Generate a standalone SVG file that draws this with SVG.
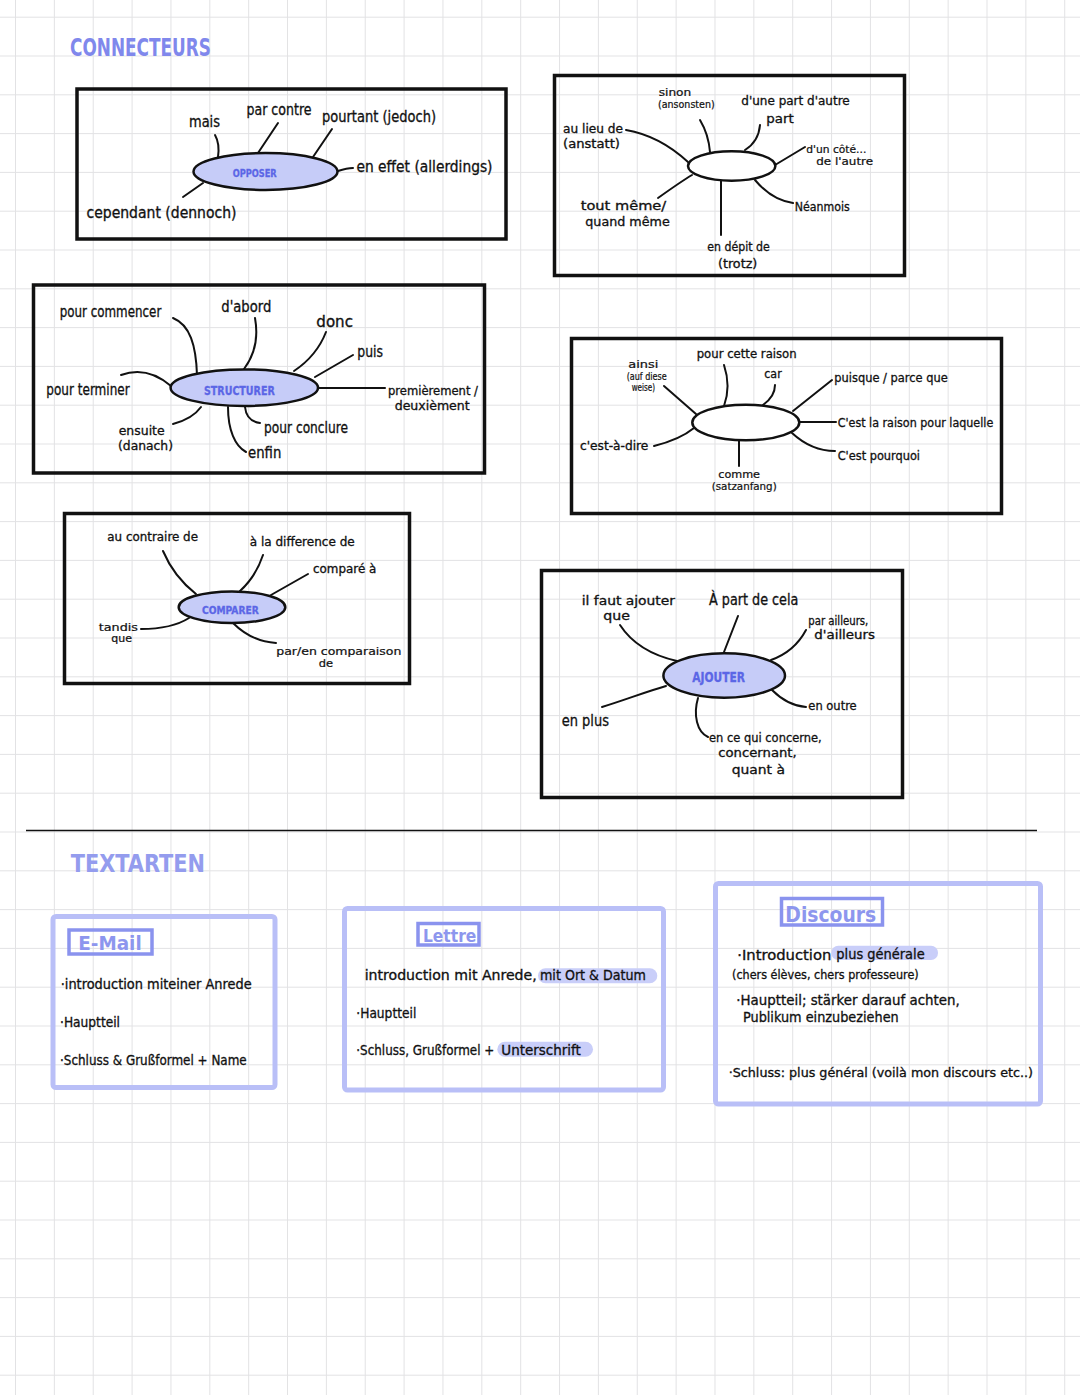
<svg xmlns="http://www.w3.org/2000/svg" width="1080" height="1395" viewBox="0 0 1080 1395">
<defs>
<pattern id="grid" patternUnits="userSpaceOnUse" x="15" y="16.7" width="38.86" height="38.8">
<path d="M0 0H38.86M0 0V38.8" fill="none" stroke="#e2e2e4" stroke-width="2"/>
</pattern>
<style>
.frame{fill:none;stroke:#111;stroke-width:3.5}
.hub{fill:#c6ccf8;stroke:#111;stroke-width:2.5}
.hubw{fill:#fff;stroke:#111;stroke-width:2.5}
.con{fill:none;stroke:#111;stroke-width:2;stroke-linecap:round}
text{font-family:"Liberation Sans Narrow","DejaVu Sans Condensed","Liberation Sans",sans-serif;fill:#111;font-size:15px;stroke:#111;stroke-width:0.3}
.sm{font-size:12.5px}
.md{font-size:13px}
.xs{font-size:10px;stroke-width:0.2}
.hubt{font-size:11px;fill:#5b66e6;stroke:#5b66e6;font-weight:bold}
.title{font-size:25px;font-weight:bold;fill:#8088ec;stroke:none}
.title2{font-size:25px;font-weight:bold;fill:#949cee;stroke:none}
.card{fill:none;stroke:#b9bff7;stroke-width:5}
.tag{fill:none;stroke:#8a93ee;stroke-width:3.5}
.tagt{font-size:20px;font-weight:bold;fill:#8d96ee;stroke:none}
.pill{fill:#c9cef9}
.tx{font-size:14px}
</style>
</defs>
<rect width="1080" height="1395" fill="#fff"/>
<rect width="1080" height="1395" fill="url(#grid)"/>

<text class="title" x="70" y="56" textLength="141" lengthAdjust="spacingAndGlyphs">CONNECTEURS</text>

<g id="connectors">
<!-- opposer -->
<path class="con" d="M215,135 C219,142 219,150 218,157"/>
<path class="con" d="M278,123 L258,153"/>
<path class="con" d="M332,129 L313,157"/>
<path class="con" d="M338,171 C344,169 348,168 353,168"/>
<path class="con" d="M203,183 L183,197"/>
<!-- top right -->
<path class="con" d="M626,130 C655,135 675,150 688,162"/>
<path class="con" d="M700,120 C706,130 709,140 710,152"/>
<path class="con" d="M760,125 C759,137 753,145 745,150"/>
<path class="con" d="M805,147 L775,165"/>
<path class="con" d="M658,198 C672,188 682,181 692,175"/>
<path class="con" d="M721,181 L721,235"/>
<path class="con" d="M755,180 C765,192 778,201 793,203"/>
<!-- structurer -->
<path class="con" d="M173,318 C190,325 196,345 197,375"/>
<path class="con" d="M255,318 C259,340 253,357 244,369"/>
<path class="con" d="M326,332 C319,350 306,363 294,371"/>
<path class="con" d="M353,355 L315,377"/>
<path class="con" d="M318,388 L385,388"/>
<path class="con" d="M121,375 C140,368 157,374 171,386"/>
<path class="con" d="M173,424 C188,420 196,414 201,407"/>
<path class="con" d="M245,407 C246,417 252,422 260,423"/>
<path class="con" d="M228,407 C228,430 235,446 246,452"/>
<!-- middle right -->
<path class="con" d="M664,386 L696,414"/>
<path class="con" d="M724,365 C729,380 728,395 724,406"/>
<path class="con" d="M775,385 C775,394 770,400 763,405"/>
<path class="con" d="M832,380 L793,411"/>
<path class="con" d="M799,422 L836,422"/>
<path class="con" d="M792,433 C805,445 818,451 835,451"/>
<path class="con" d="M654,446 C670,442 683,437 694,428"/>
<path class="con" d="M739,440 L739,466"/>
<!-- comparer -->
<path class="con" d="M163,551 C171,570 182,583 196,594"/>
<path class="con" d="M263,555 C258,570 250,582 240,591"/>
<path class="con" d="M308,574 L271,595"/>
<path class="con" d="M141,629 C160,629 178,625 189,618"/>
<path class="con" d="M233,623 C245,635 260,642 276,643"/>
<!-- ajouter -->
<path class="con" d="M620,625 C633,645 655,656 677,661"/>
<path class="con" d="M738,616 L724,652"/>
<path class="con" d="M806,630 C798,645 785,655 771,660"/>
<path class="con" d="M772,690 C782,700 792,706 806,707"/>
<path class="con" d="M602,707 C625,700 645,692 666,686"/>
<path class="con" d="M698,698 C693,715 697,732 708,737"/>
</g>

<g id="opposer">
<rect class="frame" x="77" y="89" width="429" height="150"/>
<ellipse class="hub" cx="265.5" cy="171.5" rx="72" ry="18.5"/>
<text class="hubt" x="232.7" y="176.5" textLength="44" lengthAdjust="spacingAndGlyphs">OPPOSER</text>
<text x="189" y="127" textLength="31" lengthAdjust="spacingAndGlyphs">mais</text>
<text x="246.5" y="115" textLength="65" lengthAdjust="spacingAndGlyphs">par contre</text>
<text x="322" y="121.5" textLength="114" lengthAdjust="spacingAndGlyphs">pourtant (jedoch)</text>
<text x="356.5" y="171.5" textLength="136" lengthAdjust="spacingAndGlyphs">en effet (allerdings)</text>
<text x="86.5" y="218" textLength="150" lengthAdjust="spacingAndGlyphs">cependant (dennoch)</text>
</g>

<g id="nuancer">
<rect class="frame" x="554.5" y="75.5" width="350" height="200"/>
<ellipse class="hubw" cx="731.7" cy="166" rx="43.7" ry="14.7"/>
<text class="xs" x="658.7" y="95.5" textLength="32.6" lengthAdjust="spacingAndGlyphs">sinon</text>
<text class="xs" x="658" y="107.5" textLength="56.7" lengthAdjust="spacingAndGlyphs">(ansonsten)</text>
<text class="sm" x="741.3" y="105.3" textLength="108.4" lengthAdjust="spacingAndGlyphs">d'une part d'autre</text>
<text class="sm" x="766.3" y="123" textLength="27.4" lengthAdjust="spacingAndGlyphs">part</text>
<text class="sm" x="563" y="133.3" style="font-size:12px" textLength="60" lengthAdjust="spacingAndGlyphs">au lieu de</text>
<text class="sm" x="563" y="148" style="font-size:12px" textLength="57" lengthAdjust="spacingAndGlyphs">(anstatt)</text>
<text class="xs" x="806.3" y="152.5" textLength="60" lengthAdjust="spacingAndGlyphs">d'un côté...</text>
<text class="xs" x="816.3" y="164.7" textLength="56.7" lengthAdjust="spacingAndGlyphs">de l'autre</text>
<text class="md" x="580.7" y="209.5" textLength="85.6" lengthAdjust="spacingAndGlyphs">tout même/</text>
<text class="md" x="585.3" y="225.5" textLength="84.4" lengthAdjust="spacingAndGlyphs">quand même</text>
<text class="sm" x="794.7" y="211.3" textLength="55" lengthAdjust="spacingAndGlyphs">Néanmois</text>
<text class="sm" x="707.3" y="250.7" textLength="62.4" lengthAdjust="spacingAndGlyphs">en dépit de</text>
<text class="sm" x="718" y="268" textLength="39.3" lengthAdjust="spacingAndGlyphs">(trotz)</text>
</g>

<g id="structurer">
<rect class="frame" x="33.5" y="285" width="451" height="188"/>
<ellipse class="hub" cx="244.3" cy="387.7" rx="73.7" ry="18.3"/>
<text class="hubt" x="204" y="395" style="font-size:12px" textLength="70.7" lengthAdjust="spacingAndGlyphs">STRUCTURER</text>
<text x="59.7" y="316.7" textLength="101.6" lengthAdjust="spacingAndGlyphs">pour commencer</text>
<text x="221.3" y="311.7" textLength="50" lengthAdjust="spacingAndGlyphs">d'abord</text>
<text x="316.3" y="326.7" textLength="36.7" lengthAdjust="spacingAndGlyphs">donc</text>
<text x="357.3" y="357.3" textLength="25.7" lengthAdjust="spacingAndGlyphs">puis</text>
<text class="sm" x="388" y="395" textLength="90" lengthAdjust="spacingAndGlyphs">premièrement /</text>
<text class="sm" x="394.7" y="410" textLength="75" lengthAdjust="spacingAndGlyphs">deuxièment</text>
<text x="46.3" y="395" textLength="83.4" lengthAdjust="spacingAndGlyphs">pour terminer</text>
<text class="md" x="118.7" y="434.5" textLength="46" lengthAdjust="spacingAndGlyphs">ensuite</text>
<text class="md" x="118" y="450" textLength="55" lengthAdjust="spacingAndGlyphs">(danach)</text>
<text x="264" y="433.3" textLength="84" lengthAdjust="spacingAndGlyphs">pour conclure</text>
<text x="248" y="458.3" textLength="33.3" lengthAdjust="spacingAndGlyphs">enfin</text>
</g>

<g id="justifier">
<rect class="frame" x="571.5" y="338.5" width="430" height="175"/>
<ellipse class="hubw" cx="745.8" cy="422.5" rx="53.5" ry="17.8"/>
<text class="xs" x="628.3" y="368" textLength="30" lengthAdjust="spacingAndGlyphs">ainsi</text>
<text class="xs" x="626.7" y="379.7" textLength="40" lengthAdjust="spacingAndGlyphs">(auf diese</text>
<text class="xs" x="631.7" y="391.3" textLength="23.3" lengthAdjust="spacingAndGlyphs">weise)</text>
<text class="sm" x="696.7" y="358" textLength="100" lengthAdjust="spacingAndGlyphs">pour cette raison</text>
<text class="sm" x="764.3" y="378" textLength="17.4" lengthAdjust="spacingAndGlyphs">car</text>
<text class="sm" x="834.3" y="382.3" textLength="113.4" lengthAdjust="spacingAndGlyphs">puisque / parce que</text>
<text class="sm" x="837.7" y="427" textLength="155.6" lengthAdjust="spacingAndGlyphs">C'est la raison pour laquelle</text>
<text class="sm" x="837.7" y="459.7" textLength="82.3" lengthAdjust="spacingAndGlyphs">C'est pourquoi</text>
<text class="sm" x="580" y="449.7" textLength="68.3" lengthAdjust="spacingAndGlyphs">c'est-à-dire</text>
<text class="xs" x="718.3" y="478" textLength="41.7" lengthAdjust="spacingAndGlyphs">comme</text>
<text class="xs" x="711.7" y="489.7" textLength="65" lengthAdjust="spacingAndGlyphs">(satzanfang)</text>
</g>

<g id="comparer">
<rect class="frame" x="64.5" y="513.5" width="345" height="170"/>
<ellipse class="hub" cx="232" cy="607.2" rx="53.3" ry="15.8"/>
<text class="hubt" x="202" y="614" textLength="56.7" lengthAdjust="spacingAndGlyphs">COMPARER</text>
<text class="sm" x="107.3" y="541.3" textLength="90.7" lengthAdjust="spacingAndGlyphs">au contraire de</text>
<text class="sm" x="249.7" y="546.3" textLength="105" lengthAdjust="spacingAndGlyphs">à la difference de</text>
<text class="sm" x="313" y="573" textLength="63.3" lengthAdjust="spacingAndGlyphs">comparé à</text>
<text class="xs" x="98.7" y="630.5" textLength="39.3" lengthAdjust="spacingAndGlyphs">tandis</text>
<text class="xs" x="111.3" y="642" textLength="20.7" lengthAdjust="spacingAndGlyphs">que</text>
<text class="xs" x="276.3" y="654.5" textLength="125" lengthAdjust="spacingAndGlyphs">par/en comparaison</text>
<text class="xs" x="318.7" y="666.5" textLength="14.3" lengthAdjust="spacingAndGlyphs">de</text>
</g>

<g id="ajouter">
<rect class="frame" x="541.5" y="570.5" width="361" height="227"/>
<ellipse class="hub" cx="724.2" cy="675.5" rx="60.8" ry="22.2"/>
<text class="hubt" x="692.3" y="682.3" style="font-size:14px" textLength="52.7" lengthAdjust="spacingAndGlyphs">AJOUTER</text>
<text class="md" x="581.7" y="604.5" textLength="93.3" lengthAdjust="spacingAndGlyphs">il faut ajouter</text>
<text class="md" x="603.3" y="620" textLength="26.7" lengthAdjust="spacingAndGlyphs">que</text>
<text x="709" y="605" textLength="89.3" lengthAdjust="spacingAndGlyphs">À part de cela</text>
<text class="md" x="808.3" y="624.5" style="font-size:12px" textLength="60" lengthAdjust="spacingAndGlyphs">par ailleurs,</text>
<text class="md" x="814.3" y="639" style="font-size:12px" textLength="60.7" lengthAdjust="spacingAndGlyphs">d'ailleurs</text>
<text class="md" x="808.3" y="710" textLength="48.4" lengthAdjust="spacingAndGlyphs">en outre</text>
<text x="561.7" y="725.7" textLength="47.3" lengthAdjust="spacingAndGlyphs">en plus</text>
<text class="md" x="709" y="741.5" textLength="112.7" lengthAdjust="spacingAndGlyphs">en ce qui concerne,</text>
<text class="md" x="718.3" y="757" textLength="78.4" lengthAdjust="spacingAndGlyphs">concernant,</text>
<text class="md" x="731.7" y="774.3" textLength="53.3" lengthAdjust="spacingAndGlyphs">quant à</text>
</g>

<line x1="26" y1="830.5" x2="1037" y2="830.5" stroke="#111" stroke-width="1.6"/>

<text class="title2" x="70.7" y="872" textLength="134.3" lengthAdjust="spacingAndGlyphs">TEXTARTEN</text>

<g id="email">
<rect class="card" x="53" y="916.5" width="222" height="171" rx="3"/>
<rect class="tag" x="69" y="930" width="83" height="24"/>
<text class="tagt" x="78.3" y="950" textLength="63.4" lengthAdjust="spacingAndGlyphs">E-Mail</text>
<text class="tx" x="60.7" y="989.3" textLength="191" lengthAdjust="spacingAndGlyphs">·introduction miteiner Anrede</text>
<text class="tx" x="60" y="1026.7" textLength="60" lengthAdjust="spacingAndGlyphs">·Hauptteil</text>
<text class="tx" x="60" y="1065" textLength="186.7" lengthAdjust="spacingAndGlyphs">·Schluss &amp; Grußformel + Name</text>
</g>

<g id="lettre">
<rect class="card" x="344.5" y="908.5" width="319" height="181.5" rx="3"/>
<rect class="tag" x="418" y="923.5" width="61" height="21.5"/>
<text class="tagt" x="423" y="941.7" style="font-size:18px" textLength="53.3" lengthAdjust="spacingAndGlyphs">Lettre</text>
<rect class="pill" x="538" y="968.3" width="119.3" height="15" rx="7.5"/>
<text class="tx" x="364.7" y="980" textLength="172" lengthAdjust="spacingAndGlyphs">introduction mit Anrede,</text>
<text class="tx" x="540" y="980" textLength="106" lengthAdjust="spacingAndGlyphs">mit Ort &amp; Datum</text>
<text class="tx" x="356.3" y="1018.3" textLength="60" lengthAdjust="spacingAndGlyphs">·Hauptteil</text>
<rect class="pill" x="497.3" y="1041.7" width="95.7" height="15" rx="7.5"/>
<text class="tx" x="356.3" y="1055" textLength="138" lengthAdjust="spacingAndGlyphs">·Schluss, Grußformel +</text>
<text class="tx" x="501.3" y="1055" textLength="79.4" lengthAdjust="spacingAndGlyphs">Unterschrift</text>
</g>

<g id="discours">
<rect class="card" x="715.5" y="883.5" width="325" height="220.5" rx="3"/>
<rect class="tag" x="781.5" y="898.5" width="101" height="26.5"/>
<text class="tagt" x="785.3" y="921.7" style="font-size:22px" textLength="91" lengthAdjust="spacingAndGlyphs">Discours</text>
<rect class="pill" x="831.3" y="945.7" width="106.7" height="14.3" rx="7"/>
<text class="tx" x="737.3" y="960" textLength="94" lengthAdjust="spacingAndGlyphs">·Introduction</text>
<text class="tx" x="836.3" y="959" textLength="88.4" lengthAdjust="spacingAndGlyphs">plus générale</text>
<text class="sm" x="732" y="979" textLength="186.7" lengthAdjust="spacingAndGlyphs">(chers élèves, chers professeure)</text>
<text class="tx" x="736.3" y="1005" textLength="223.4" lengthAdjust="spacingAndGlyphs">·Hauptteil; stärker darauf achten,</text>
<text class="tx" x="743" y="1021.7" textLength="155.7" lengthAdjust="spacingAndGlyphs">Publikum einzubeziehen</text>
<text class="sm" x="728.7" y="1076.7" textLength="304.3" lengthAdjust="spacingAndGlyphs">·Schluss: plus général (voilà mon discours etc..)</text>
</g>
</svg>
